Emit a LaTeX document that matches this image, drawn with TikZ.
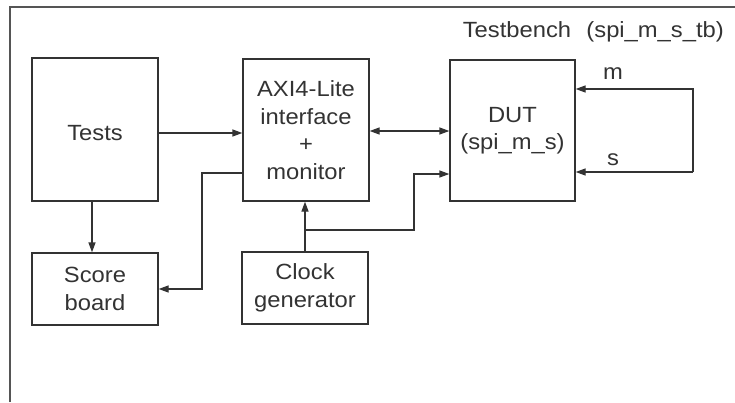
\documentclass[tikz,border=0pt]{standalone}
\usepackage{fontspec}
\setmainfont{Liberation Sans}[FakeStretch=1.08]
\usetikzlibrary{arrows.meta,calc}
\definecolor{ink}{HTML}{333333}
\definecolor{frame}{HTML}{555555}
\begin{document}
\begin{tikzpicture}[x=1pt,y=-1pt,
  blk/.style={draw=ink,line width=1.3pt,inner sep=0pt,font=\fontsize{22}{27.5}\selectfont,text=ink,align=center},
  lbl/.style={inner sep=0pt,font=\fontsize{22}{27.5}\selectfont,text=ink},
  wire/.style={draw=ink,line width=1.3pt},
  arr/.style={wire,-{Triangle[length=10pt,width=7pt]}},
  arrb/.style={wire,{Triangle[length=10pt,width=7pt]}-{Triangle[length=10pt,width=7pt]}}]
\useasboundingbox (0,0) rectangle (735,402);
\fill[white] (0,0) rectangle (735,402);
% outer frame (cropped)
\draw[draw=frame,line width=1.6pt] (10,402) -- (10,7) -- (735,7);
\node[lbl,anchor=base east] (title) at (724,37) {Testbench\hspace{0.7em}(spi\_m\_s\_tb)};
% blocks
\node[blk,minimum width=126pt,minimum height=143pt] (tests) at (95,129.5) {};
\node[lbl] (teststxt) at (95,133) {Tests};
\node[blk,minimum width=126pt,minimum height=142pt] (axi) at (306,130) {AXI4-Lite\\interface\\+\\monitor};
\node[blk,minimum width=125pt,minimum height=141pt] (dut) at (512.5,130.5) {DUT\\(spi\_m\_s)};
\node[blk,minimum width=126pt,minimum height=72pt] (score) at (95,289) {Score\\board};
\node[blk,minimum width=126pt,minimum height=72pt] (clock) at (305,288) {Clock\\generator};
% connectors
\draw[arr] ([yshift=-3.5pt]tests.east) -- ([yshift=-3.5pt]tests.east -| axi.west);
\draw[arrb] ([yshift=-1pt]axi.east) -- ([yshift=-1pt]axi.east -| dut.west);
\draw[arr] ([xshift=-3pt]tests.south) -- ([xshift=-3pt]tests.south |- score.north);
\coordinate (fb) at (202,173);
\draw[arr] (fb -| axi.west) -- (fb) |- (score.east);
\draw[arr] (clock.north) -- (clock.north |- axi.south);
\coordinate (br) at (305,230);
\coordinate (k) at (414,174);
\draw[arr] (br) -| (k) -- (k -| dut.west);
\coordinate (lm) at (693,89);
\coordinate (ls) at (693,172);
\draw[arr] (ls) -- (lm) -- (lm -| dut.east);
\draw[arr] (ls) -- (ls -| dut.east);
\node[lbl] (mlbl) at (613,74) {m};
\node[lbl] (slbl) at (613,160) {s};
\end{tikzpicture}
\end{document}
